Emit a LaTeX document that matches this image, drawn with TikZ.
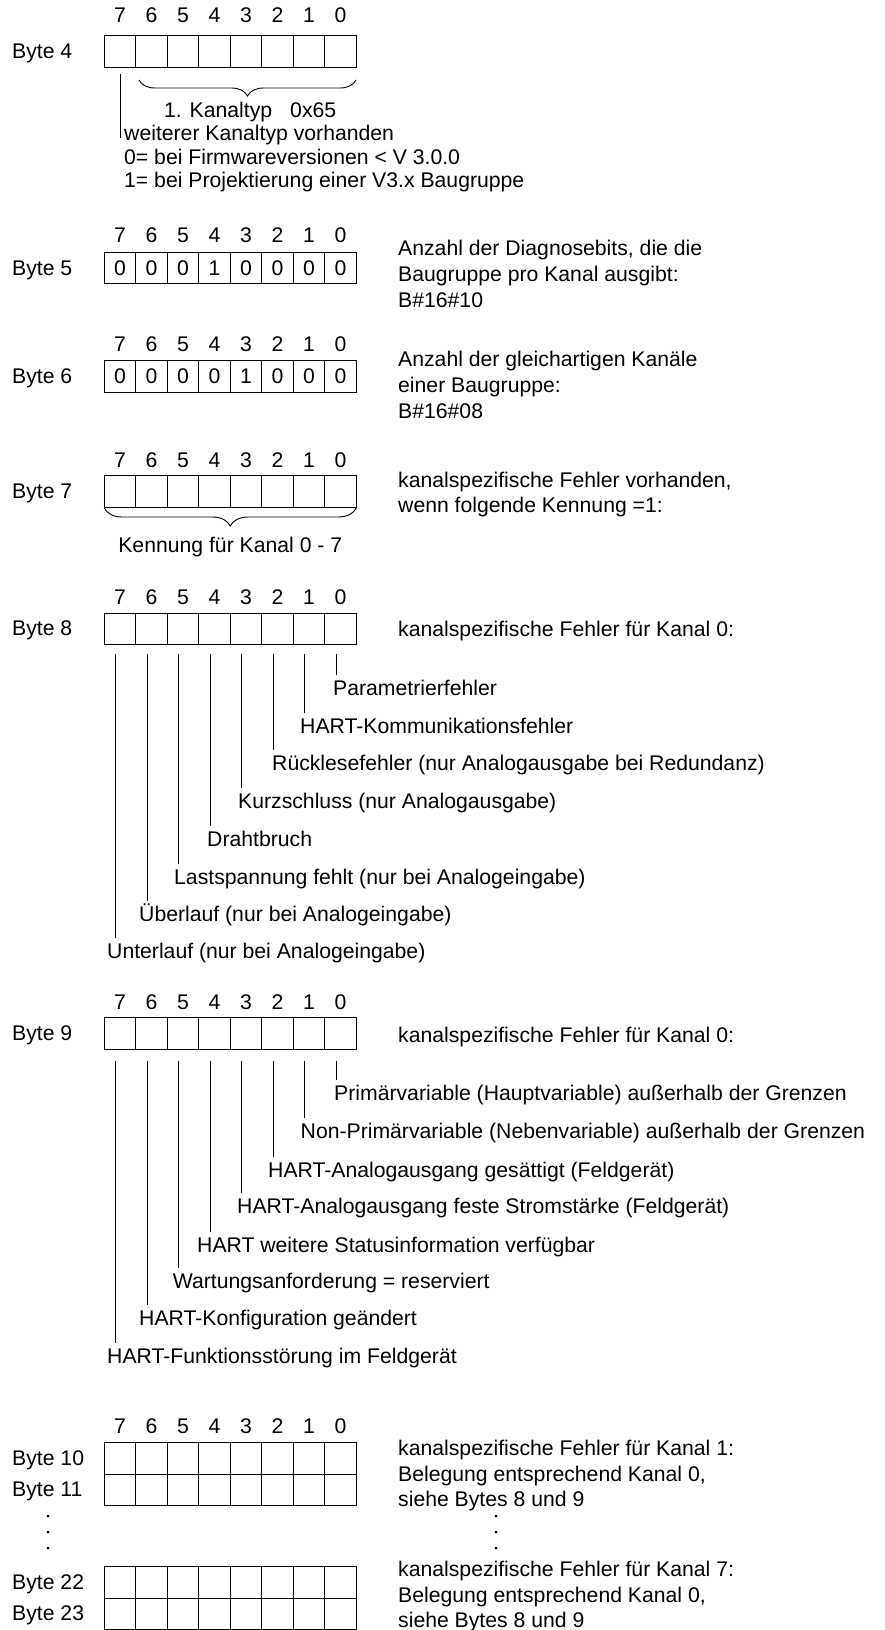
\documentclass[tikz,border=0pt]{standalone}
\usepackage{fontspec}
\setmainfont{Liberation Sans}
\usetikzlibrary{decorations.pathreplacing,calc}

\begin{document}
\begin{tikzpicture}
[x=1pt,y=-1pt,
font=\fontsize{21.2}{25.5}\selectfont,
bitcell/.style={shape=rectangle,draw=black,line width=1.1pt,minimum width=31.5pt,minimum height=31.5pt,inner sep=0pt,anchor=north},
bitno/.style={anchor=base,inner sep=0pt},
bytelabel/.style={anchor=base west,inner sep=0pt},
remark/.style={anchor=base west,inner sep=0pt,align=left},
flag/.style={anchor=base west,inner xsep=0pt,inner ysep=5pt,text height=15.5pt,text depth=4.5pt},
leader/.style={line width=0.9pt},
curly/.style={decorate,decoration={brace,mirror,amplitude=#1},line width=0.9pt}]
\useasboundingbox (0,0) rectangle (884,1630);
%% byte boxes and their labels
\foreach \n/\yt in {4/35,5/251.7,6/360,7/475,8/612.5,9/1017,10/1442,11/1473.5,22/1566,23/1597.5} {
  \node (lab\n) [bytelabel] at (12,\yt+23.4) {Byte \n};
  \foreach \b in {7,...,0}
    \node (b\n-\b) [bitcell] at ({104.3+31.5*(7.5-\b)},\yt) {};
}
%% bit numbers
\foreach \n/\yt in {4/22.6,5/242.6,6/351.6,7/467.6,8/604.6,9/1009.6,10/1433.6}
  \foreach \b in {7,...,0}
    \node (h\n-\b) [bitno] at ({104.3+31.5*(7.5-\b)},\yt) {\b};
\foreach \b/\v in {7/0,6/0,5/0,4/1,3/0,2/0,1/0,0/0}
  \node (d5-\b) at (b5-\b) {\v};
\foreach \b/\v in {7/0,6/0,5/0,4/0,3/1,2/0,1/0,0/0}
  \node (d6-\b) at (b6-\b) {\v};
%% byte 4
\draw[curly=16pt] (139,80) -- (356,80);
\node (kt4) [remark] at (164,117.6) {1. Kanaltyp\hspace{18pt}0x65};
\coordinate (k4a) at (120.3,74);
\coordinate (k4b) at (120.3,138);
\draw[leader] (k4a) -- (k4b);
\node (w4) [remark,font=\fontsize{21.2}{23.5}\selectfont] at (124,187.6)
  {weiterer Kanaltyp vorhanden\\0= bei Firmwareversionen < V 3.0.0\\1= bei Projektierung einer V3.x Baugruppe};
%% bytes 5 to 7
\node (r5) [remark,font=\fontsize{21.2}{26}\selectfont] at (398,307.6)
  {Anzahl der Diagnosebits, die die\\Baugruppe pro Kanal ausgibt:\\B\#16\#10};
\node (r6) [remark,font=\fontsize{21.2}{26}\selectfont] at (398,418.6)
  {Anzahl der gleichartigen Kanäle\\einer Baugruppe:\\B\#16\#08};
\node (r7) [remark,font=\fontsize{21.2}{25}\selectfont] at (398,512.6)
  {kanalspezifische Fehler vorhanden,\\wenn folgende Kennung =1:};
\draw[curly=18pt] (104.3,508) -- (356.3,508);
\node (k7) [bitno] at (230.3,552.6) {Kennung für Kanal 0 - 7};
%% byte 8
\node (r8) [remark] at (398,636.6) {kanalspezifische Fehler für Kanal 0:};
\foreach \b/\lx/\ly/\txt in {0/333/688/{Parametrierfehler},
    1/300/726/{HART-Kommunikationsfehler},
    2/272/763/{Rücklesefehler (nur Analogausgabe bei Redundanz)},
    3/238/801/{Kurzschluss (nur Analogausgabe)},
    4/207/839/{Drahtbruch},
    5/174/877/{Lastspannung fehlt (nur bei Analogeingabe)},
    6/139/914/{Überlauf (nur bei Analogeingabe)},
    7/107/951/{Unterlauf (nur bei Analogeingabe)}} {
  \node (e8-\b) [flag] at (\lx,\ly+7.6) {\txt};
  \coordinate (s8-\b) at ({104.3+31.5*(7.5-\b)-4.3},654);
  \draw[leader] (s8-\b) -- (s8-\b |- e8-\b.north);
}
%% byte 9
\node (r9) [remark] at (398,1042.6) {kanalspezifische Fehler für Kanal 0:};
\foreach \b/\lx/\ly/\txt in {0/334/1093/{Primärvariable (Hauptvariable) außerhalb der Grenzen},
    1/300.5/1131/{Non-Primärvariable (Nebenvariable) außerhalb der Grenzen},
    2/268/1170/{HART-Analogausgang gesättigt (Feldgerät)},
    3/237/1206/{HART-Analogausgang feste Stromstärke (Feldgerät)},
    4/197/1245/{HART weitere Statusinformation verfügbar},
    5/172.6/1281/{Wartungsanforderung = reserviert},
    6/139/1318/{HART-Konfiguration geändert},
    7/107/1356/{HART-Funktionsstörung im Feldgerät}} {
  \node (e9-\b) [flag] at (\lx,\ly+7.6) {\txt};
  \coordinate (s9-\b) at ({104.3+31.5*(7.5-\b)-4.3},1060.7);
  \draw[leader] (s9-\b) -- (s9-\b |- e9-\b.north);
}
%% bytes 10 to 23
\node (r10) [remark] at (398,1506.6)
  {kanalspezifische Fehler für Kanal 1:\\Belegung entsprechend Kanal 0,\\siehe Bytes 8 und 9};
\node (r22) [remark] at (398,1627.6)
  {kanalspezifische Fehler für Kanal 7:\\Belegung entsprechend Kanal 0,\\siehe Bytes 8 und 9};
\foreach \y in {1516,1532,1548} {
  \fill (48,\y) circle (1.5pt);
  \fill (496,\y) circle (1.5pt);
}
\end{tikzpicture}
\end{document}
